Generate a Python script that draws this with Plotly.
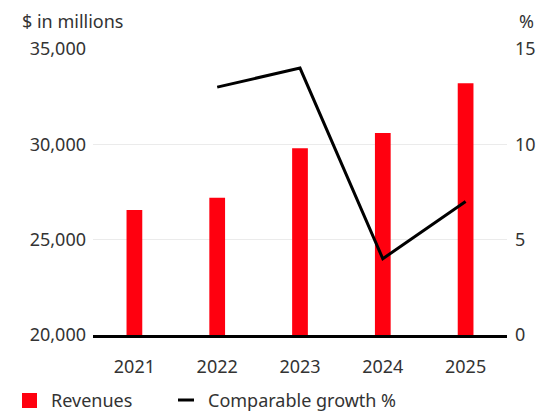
import plotly.graph_objects as go

years = ["2021", "2022", "2023", "2024", "2025"]
revenues = [26550, 27200, 29800, 30600, 33200]
growth_years = ["2022", "2023", "2024", "2025"]
growth_pct = [13, 14, 4, 7]

left_ticks = [20000, 25000, 30000, 35000]
left_tick_text = ["20,000", "25,000", "30,000", "35,000"]
right_ticks = [0, 5, 10, 15]

RED = "#FF000F"
TEXT = "#333333"
FONT = "Noto Sans"
FS = 18

# plot-area geometry in pixels, used to place the hand-drawn legend
L, R, T, B = 93, 31, 49, 78
W, H = 538, 413
PW, PH = W - L - R, H - T - B


def px_x(px):
    return (px - L) / PW


def px_y(py):
    return (H - B - py) / PH


fig = go.Figure()
fig.add_trace(go.Bar(
    x=years, y=revenues, name="Revenues",
    marker=dict(color=RED, line=dict(width=0)),
    width=0.19,
))
fig.add_trace(go.Scatter(
    x=growth_years, y=growth_pct, name="Comparable growth %",
    mode="lines", line=dict(color="#000000", width=3),
    yaxis="y2",
))

legend_y = px_y(400)

fig.update_layout(
    width=W, height=H,
    margin=dict(l=L, r=R, t=T, b=B),
    paper_bgcolor="white", plot_bgcolor="white",
    font=dict(family=FONT, size=FS, color=TEXT),
    showlegend=False,
    xaxis=dict(
        showgrid=False, showline=True, linecolor="#000000", linewidth=2.5,
        ticks="", ticklabelstandoff=14, tickfont=dict(size=FS, color=TEXT),
        automargin=False,
    ),
    yaxis=dict(
        range=[20000, 35000], tickvals=left_ticks, ticktext=left_tick_text,
        showgrid=True, gridcolor="#EBEBEB", gridwidth=1,
        zeroline=False, showline=False, ticks="", ticklabelstandoff=6,
        tickfont=dict(size=FS, color=TEXT), automargin=False,
    ),
    yaxis2=dict(
        range=[0, 15], tickvals=right_ticks, overlaying="y", side="right",
        showgrid=False, zeroline=False, showline=False, ticklabelstandoff=7,
        tickfont=dict(size=FS, color=TEXT), automargin=False,
    ),
    shapes=[
        dict(type="rect", xref="paper", yref="paper",
             x0=px_x(22), x1=px_x(37), y0=px_y(393), y1=px_y(408),
             fillcolor=RED, line=dict(width=0)),
        dict(type="line", xref="paper", yref="paper",
             x0=px_x(178), x1=px_x(194), y0=legend_y, y1=legend_y,
             line=dict(color="#000000", width=3)),
    ],
    annotations=[
        dict(text="$ in millions", xref="paper", yref="paper",
             x=px_x(20), y=px_y(21), xanchor="left", yanchor="middle",
             showarrow=False, font=dict(size=FS, color=TEXT)),
        dict(text="%", xref="paper", yref="paper",
             x=px_x(536), y=px_y(21), xanchor="right", yanchor="middle",
             showarrow=False, font=dict(size=FS, color=TEXT)),
        dict(text="Revenues", xref="paper", yref="paper",
             x=px_x(49), y=legend_y, xanchor="left", yanchor="middle",
             showarrow=False, font=dict(size=FS, color=TEXT)),
        dict(text="Comparable growth %", xref="paper", yref="paper",
             x=px_x(206), y=legend_y, xanchor="left", yanchor="middle",
             showarrow=False, font=dict(size=FS, color=TEXT)),
    ],
)

fig.write_html("out.html")
